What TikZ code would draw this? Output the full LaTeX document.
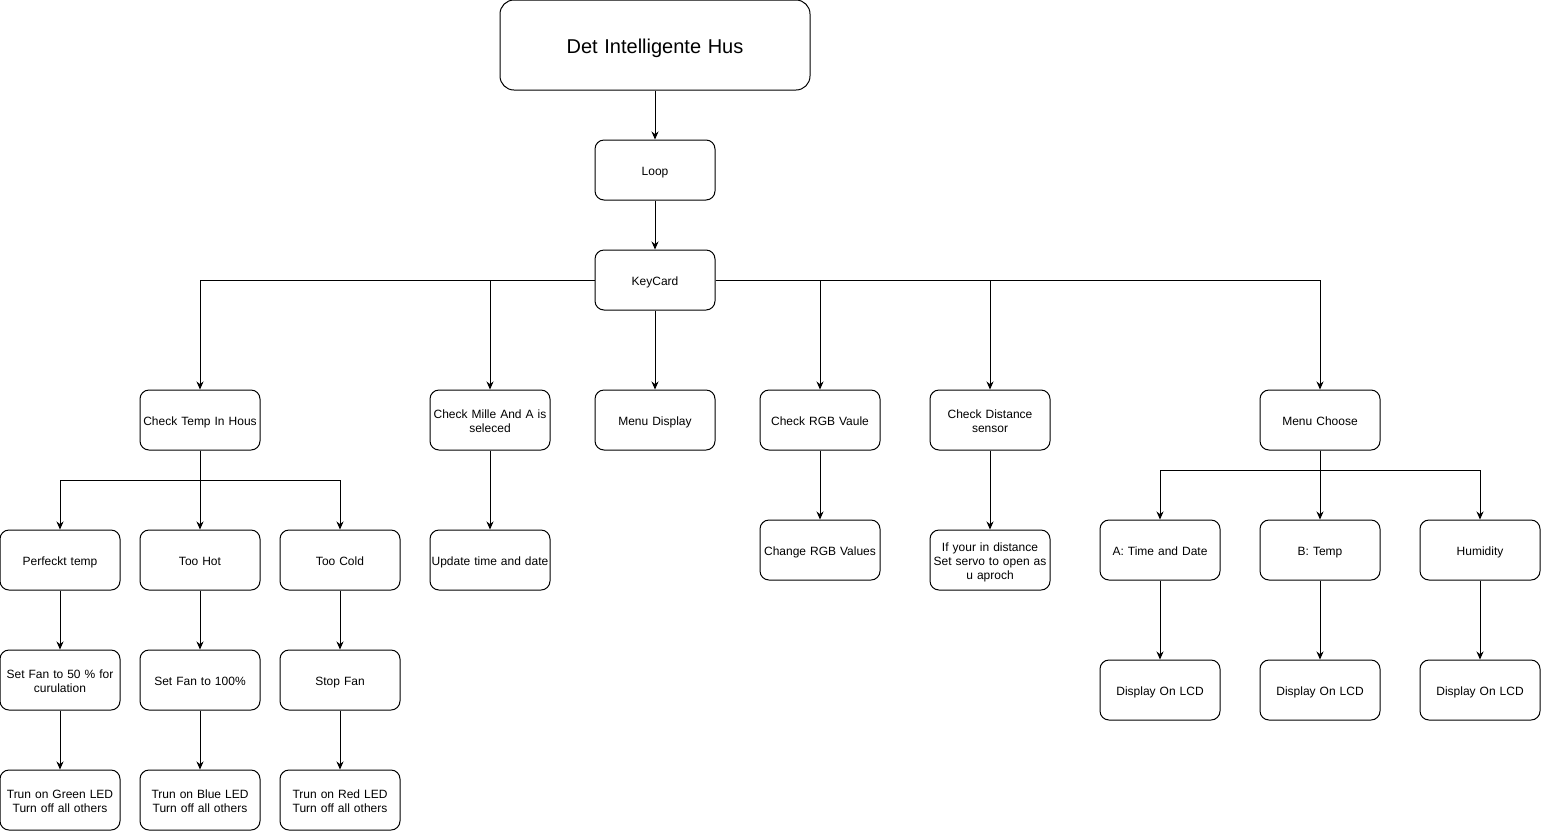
\documentclass[tikz,border=0pt]{standalone}
\usepackage{fontspec}
\setmainfont{Liberation Sans}
\usetikzlibrary{arrows.meta}
\newcommand{\boxtop}{\rule{0pt}{1.12em}}
\newcommand{\boxbot}{\rule[-0.28em]{0pt}{0.28em}}
\tikzset{
  box/.style={draw,line width=1pt,rounded corners=9pt,minimum width=120pt,minimum height=60pt,
    inner sep=1pt,text width=118pt,align=center,font=\fontsize{12}{14}\selectfont,
    execute at begin node=\boxtop,execute at end node=\boxbot},
  titlebox/.style={box,rounded corners=14pt,minimum width=310pt,minimum height=90pt,
    text width=300pt,font=\fontsize{20}{24}\selectfont},
  arr/.style={line width=1pt,-{Stealth[length=8pt,width=7pt]}}
}
\begin{document}
\begin{tikzpicture}[x=1pt,y=-1pt]
  \useasboundingbox (0,0) rectangle (1541,831);
  \node [titlebox] (house) at (655,45) {Det Intelligente Hus};
  \node [box] (loop) at (655,170) {Loop};
  \node [box] (keycard) at (655,280) {KeyCard};
  \node [box] (temp) at (200,420) {Check Temp In Hous};
  \node [box] (mille) at (490,420) {Check Mille And A is\\seleced};
  \node [box] (menudisp) at (655,420) {Menu Display};
  \node [box] (rgb) at (820,420) {Check RGB Vaule};
  \node [box] (dist) at (990,420) {Check Distance\\sensor};
  \node [box] (choose) at (1320,420) {Menu Choose};
  \node [box] (perf) at (60,560) {Perfeckt temp};
  \node [box] (hot) at (200,560) {Too Hot};
  \node [box] (cold) at (340,560) {Too Cold};
  \node [box] (update) at (490,560) {Update time and date};
  \node [box] (chrgb) at (820,550) {Change RGB Values};
  \node [box] (servo) at (990,560) {If your in distance\\Set servo to open as\\u aproch};
  \node [box] (timedate) at (1160,550) {A: Time and Date};
  \node [box] (btemp) at (1320,550) {B: Temp};
  \node [box] (humid) at (1480,550) {Humidity};
  \node [box] (fanhalf) at (60,680) {Set Fan to 50 \% for\\curulation};
  \node [box] (fanfull) at (200,680) {Set Fan to 100\%};
  \node [box] (fanstop) at (340,680) {Stop Fan};
  \node [box] (green) at (60,800) {Trun on Green LED\\Turn off all others};
  \node [box] (blue) at (200,800) {Trun on Blue LED\\Turn off all others};
  \node [box] (red) at (340,800) {Trun on Red LED\\Turn off all others};
  \node [box] (lcda) at (1160,690) {Display On LCD};
  \node [box] (lcdb) at (1320,690) {Display On LCD};
  \node [box] (lcdc) at (1480,690) {Display On LCD};

  \draw [arr] (house) -- (loop);
  \draw [arr] (loop) -- (keycard);
  \draw [arr] (keycard.west) -| (temp.north);
  \draw [arr] (keycard.west) -| (mille.north);
  \draw [arr] (keycard) -- (menudisp);
  \draw [arr] (keycard.east) -| (rgb.north);
  \draw [arr] (keycard.east) -| (dist.north);
  \draw [arr] (keycard.east) -| (choose.north);
  \draw [arr] (temp.south) -- ++(0,30) -| (perf.north);
  \draw [arr] (temp) -- (hot);
  \draw [arr] (temp.south) -- ++(0,30) -| (cold.north);
  \draw [arr] (mille) -- (update);
  \draw [arr] (rgb) -- (chrgb);
  \draw [arr] (dist) -- (servo);
  \draw [arr] (choose.south) -- ++(0,20) -| (timedate.north);
  \draw [arr] (choose) -- (btemp);
  \draw [arr] (choose.south) -- ++(0,20) -| (humid.north);
  \draw [arr] (perf) -- (fanhalf);
  \draw [arr] (hot) -- (fanfull);
  \draw [arr] (cold) -- (fanstop);
  \draw [arr] (fanhalf) -- (green);
  \draw [arr] (fanfull) -- (blue);
  \draw [arr] (fanstop) -- (red);
  \draw [arr] (timedate) -- (lcda);
  \draw [arr] (btemp) -- (lcdb);
  \draw [arr] (humid) -- (lcdc);
\end{tikzpicture}
\end{document}
